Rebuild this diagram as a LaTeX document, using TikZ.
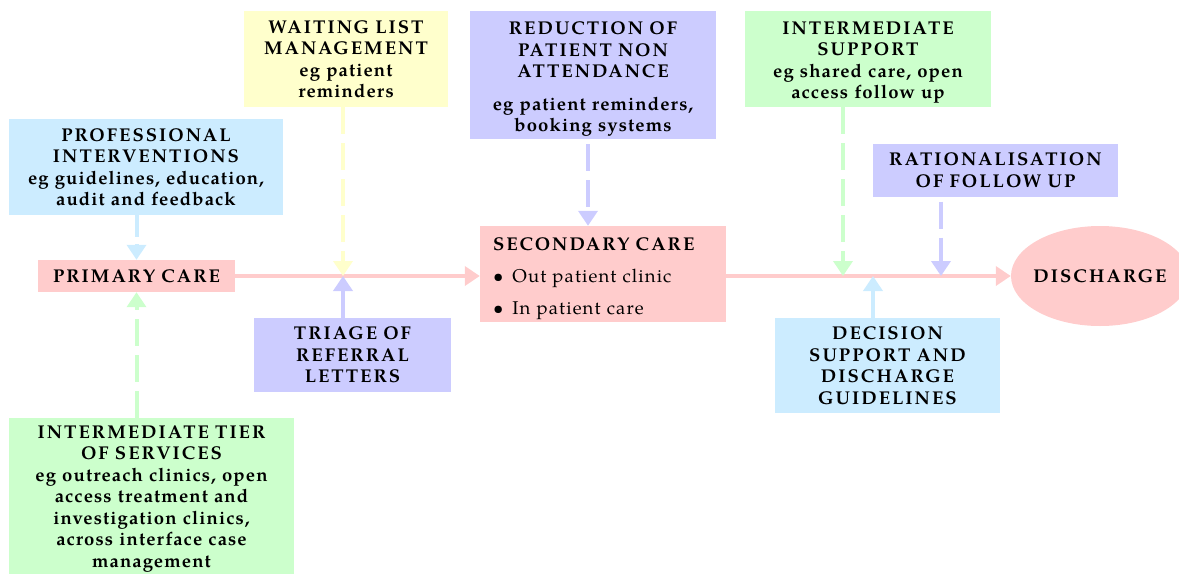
\documentclass[tikz,border=0pt]{standalone}
\usepackage{fontspec}
\setmainfont{TeX Gyre Pagella}
\usetikzlibrary{arrows.meta,shapes.geometric}
\definecolor{cpink}{HTML}{FFCCCC}
\definecolor{cblue}{HTML}{CCECFF}
\definecolor{cyell}{HTML}{FFFFCC}
\definecolor{clav}{HTML}{CCCCFF}
\definecolor{cgreen}{HTML}{CCFFCC}
\newcommand\cp[1]{{\addfontfeatures{LetterSpace=11}#1}}
\newcommand\lw[1]{{\addfontfeatures{LetterSpace=6}#1}}
\tikzset{
  box/.style={rectangle, inner sep=0pt, align=center, font=\fontsize{18.5}{21.5}\selectfont\bfseries},
  arr/.style={line width=4pt, -{Triangle[length=15pt,width=19pt]}},
  dsh/.style={dash pattern=on 27pt off 9pt},
}
\begin{document}
\begin{tikzpicture}[x=1pt,y=-1pt]
\useasboundingbox (0,0) rectangle (1179,574);
% boxes
\node[box, fill=cyell, minimum width=204pt, minimum height=96pt, text width=200pt] (wait) at (346,59)
  {\cp{WAITING LIST}\\\cp{MANAGEMENT}\\\lw{eg patient}\\\lw{reminders}};
\node[box, fill=clav, minimum width=246pt, minimum height=128pt, text width=240pt] (reduce) at (593,75)
  {\rule{0pt}{21.5pt}\cp{REDUCTION OF}\\\cp{PATIENT NON}\\\cp{ATTENDANCE}\\[11pt]\lw{eg patient reminders,}\\\lw{booking systems}};
\node[box, fill=cgreen, minimum width=246pt, minimum height=96pt, text width=240pt] (isupp) at (868,59)
  {\rule{0pt}{19.5pt}\cp{INTERMEDIATE}\\\cp{SUPPORT}\\\lw{eg shared care, open}\\\lw{access follow up}};
\node[box, fill=cblue, minimum width=274pt, minimum height=96pt, text width=270pt] (prof) at (146,167)
  {\cp{PROFESSIONAL}\\\cp{INTERVENTIONS}\\\lw{eg guidelines, education,}\\\lw{audit and feedback}};
\node[box, fill=clav, minimum width=245pt, minimum height=53pt, text width=240pt] (ration) at (995.5,170)
  {\cp{RATIONALISATION}\\\cp{OF FOLLOW UP}};
\node[box, fill=cpink, minimum width=197pt, minimum height=32pt, text width=190pt] (primary) at (136.5,276)
  {\cp{PRIMARY CARE}};
\node[box, fill=cpink, minimum width=246pt, minimum height=96pt, text width=220pt, align=left] (secondary) at (603,274)
  {\rule{0pt}{21.5pt}\cp{SECONDARY CARE}\\[11pt]
   \mdseries\textbullet\hspace{9pt}\lw{Out patient clinic}\\[10pt]
   \mdseries\textbullet\hspace{9pt}\lw{In patient care}};
\node[ellipse, fill=cpink, minimum width=178pt, minimum height=100pt, inner xsep=-6pt, inner ysep=20pt,
      font=\fontsize{18.5}{21.5}\selectfont\bfseries] (discharge) at (1100,276) {\cp{DISCHARGE}};
\node[box, fill=clav, minimum width=197pt, minimum height=74pt, text width=190pt] (triage) at (352.5,355)
  {\cp{TRIAGE OF}\\\cp{REFERRAL}\\\cp{LETTERS}};
\node[box, fill=cblue, minimum width=225pt, minimum height=95pt, text width=220pt] (decision) at (887.5,365.5)
  {\cp{DECISION}\\\cp{SUPPORT AND}\\\cp{DISCHARGE}\\\cp{GUIDELINES}};
\node[box, fill=cgreen, minimum width=285pt, minimum height=156pt, text width=280pt] (itier) at (151.5,496)
  {\rule{0pt}{18.5pt}\cp{INTERMEDIATE TIER}\\\cp{OF SERVICES}\\\lw{eg outreach clinics, open}\\\lw{access treatment and}\\\lw{investigation clinics,}\\\lw{across interface case}\\\lw{management}};
% junctions on the main line
\coordinate (j1) at (343,276);
\coordinate (j2) at (843,276);
\coordinate (j3) at (873,276);
\coordinate (j4) at (941,276);
\coordinate (j5) at (588,276);
% main line
\draw[arr, cpink] (primary.east) -- (secondary.west |- j1);
\draw[arr, cpink] (secondary.east |- j1) -- (discharge.west);
% vertical arrows
\draw[arr, cblue, dash pattern=on 22pt off 7pt] (prof.south -| primary) -- (primary.north);
\draw[arr, cgreen, dsh] (itier.north -| primary) -- (primary.south);
\draw[arr, cyell, dsh] (wait.south -| j1) -- (j1);
\draw[arr, clav] (triage.north -| j1) -- (j1);
\draw[arr, clav, dsh, shorten <=5pt] (reduce.south -| j5) -- (secondary.north -| j5);
\draw[arr, cgreen, dsh] (isupp.south -| j2) -- (j2);
\draw[arr, cblue] (decision.north -| j3) -- (j3);
\draw[arr, clav, dsh, shorten <=5pt] (ration.south -| j4) -- (j4);
\end{tikzpicture}
\end{document}
